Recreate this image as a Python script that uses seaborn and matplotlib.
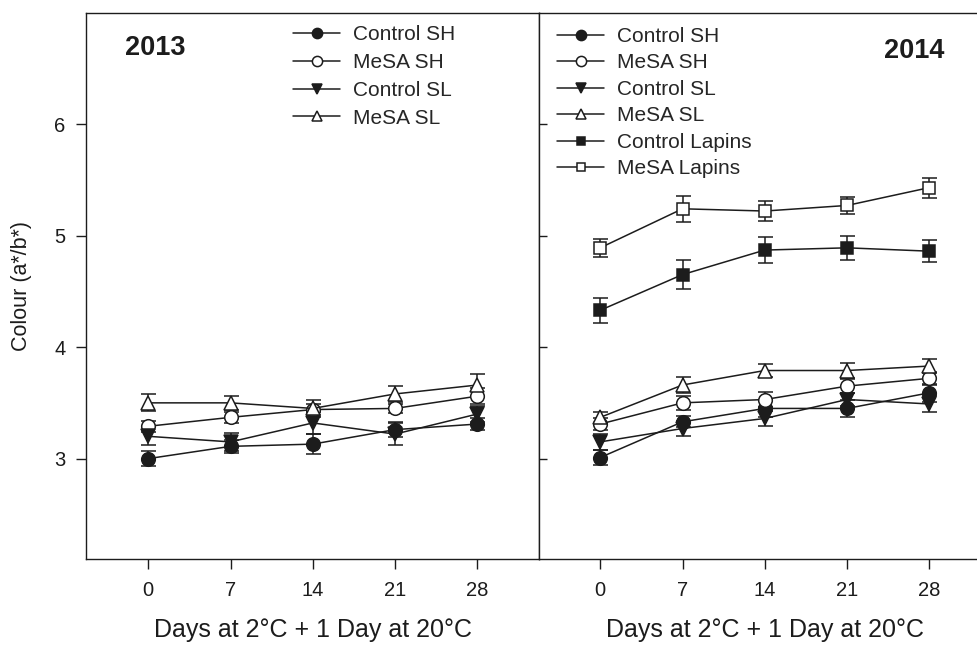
import matplotlib
matplotlib.use("Agg")
import matplotlib.pyplot as plt
import seaborn as sns

# Sampling days in cold storage (+1 day shelf life at 20 °C)
days = [0, 7, 14, 21, 28]

# 2013 season: colour index (a*/b*) means and standard errors
ctrl_sh_2013 = [3.00, 3.11, 3.13, 3.26, 3.31]
ctrl_sh_2013_se = [0.07, 0.06, 0.09, 0.07, 0.05]
mesa_sh_2013 = [3.29, 3.37, 3.44, 3.45, 3.56]
mesa_sh_2013_se = [0.05, 0.05, 0.05, 0.04, 0.07]
ctrl_sl_2013 = [3.20, 3.15, 3.32, 3.22, 3.40]
ctrl_sl_2013_se = [0.08, 0.08, 0.10, 0.10, 0.07]
mesa_sl_2013 = [3.50, 3.50, 3.45, 3.58, 3.66]
mesa_sl_2013_se = [0.075, 0.06, 0.08, 0.075, 0.10]

# 2014 season
ctrl_sh_2014 = [3.01, 3.33, 3.45, 3.45, 3.59]
ctrl_sh_2014_se = [0.07, 0.05, 0.08, 0.08, 0.08]
mesa_sh_2014 = [3.31, 3.50, 3.53, 3.65, 3.72]
mesa_sh_2014_se = [0.05, 0.06, 0.07, 0.06, 0.06]
ctrl_sl_2014 = [3.15, 3.27, 3.36, 3.53, 3.49]
ctrl_sl_2014_se = [0.07, 0.07, 0.07, 0.06, 0.07]
mesa_sl_2014 = [3.37, 3.66, 3.79, 3.79, 3.83]
mesa_sl_2014_se = [0.05, 0.07, 0.06, 0.07, 0.06]
ctrl_lapins_2014 = [4.33, 4.65, 4.87, 4.89, 4.86]
ctrl_lapins_2014_se = [0.11, 0.13, 0.12, 0.11, 0.10]
mesa_lapins_2014 = [4.89, 5.24, 5.22, 5.27, 5.43]
mesa_lapins_2014_se = [0.08, 0.115, 0.09, 0.08, 0.09]

labels = ["Control SH", "MeSA SH", "Control SL", "MeSA SL",
          "Control Lapins", "MeSA Lapins"]
year_labels = ["2013", "2014"]
xlabel = "Days at 2°C + 1 Day at 20°C"
ylabel = "Colour (a*/b*)"
yticks = [3, 4, 5, 6]

INK = "#1c1c1c"
# marker, filled, size (pt)
styles = {
    "Control SH": ("o", True, 9.8),
    "MeSA SH": ("o", False, 9.8),
    "Control SL": ("v", True, 10.2),
    "MeSA SL": ("^", False, 10.2),
    "Control Lapins": ("s", True, 8.4),
    "MeSA Lapins": ("s", False, 8.4),
}

sns.set_theme(style="ticks")
plt.rcParams["font.family"] = ["Liberation Sans", "DejaVu Sans"]
plt.rcParams["axes.edgecolor"] = INK
plt.rcParams["axes.linewidth"] = 1.0

fig = plt.figure(figsize=(9.78, 6.46), dpi=100)
W, H = 978, 646
ax_w = 452 / W
ax_b = 1 - 559 / H
ax_h = (559 - 12.5) / H
ax1 = fig.add_axes([86.5 / W, ax_b, ax_w, ax_h])
ax2 = fig.add_axes([538.5 / W, ax_b, ax_w, ax_h])


def draw_series(ax, name, vals, errs):
    marker, filled, ms = styles[name]
    ax.errorbar(days, vals, yerr=errs, fmt="none", ecolor=INK,
                elinewidth=1.1, capsize=5.4, capthick=1.1, zorder=2)
    sns.lineplot(x=days, y=vals, ax=ax, color=INK, linewidth=1.1,
                 marker=marker, markersize=ms,
                 markerfacecolor=INK if filled else "white",
                 markeredgecolor=INK, markeredgewidth=1.1,
                 label=name, zorder=3)


series_2013 = [
    (ctrl_sh_2013, ctrl_sh_2013_se),
    (mesa_sh_2013, mesa_sh_2013_se),
    (ctrl_sl_2013, ctrl_sl_2013_se),
    (mesa_sl_2013, mesa_sl_2013_se),
]
series_2014 = [
    (ctrl_sh_2014, ctrl_sh_2014_se),
    (mesa_sh_2014, mesa_sh_2014_se),
    (ctrl_sl_2014, ctrl_sl_2014_se),
    (mesa_sl_2014, mesa_sl_2014_se),
    (ctrl_lapins_2014, ctrl_lapins_2014_se),
    (mesa_lapins_2014, mesa_lapins_2014_se),
]

for name, (v, e) in zip(labels, series_2013):
    draw_series(ax1, name, v, e)
for name, (v, e) in zip(labels, series_2014):
    draw_series(ax2, name, v, e)

for ax in (ax1, ax2):
    ax.set_xlim(-5.25, 33.2)
    ax.set_ylim(2.1, 7.0)
    ax.set_xticks(days)
    ax.set_xticklabels([str(d) for d in days])
    ax.set_yticks(yticks)
    ax.set_xlabel(xlabel, fontsize=18, labelpad=12.5, color=INK)
    ax.tick_params(axis="x", direction="out", length=7, width=1.0,
                   pad=9, labelsize=14.5, colors=INK)
    for s in ax.spines.values():
        s.set_visible(True)
        s.set_color(INK)
        s.set_linewidth(1.0)

ax1.tick_params(axis="y", direction="out", length=7, width=1.0, pad=8,
                labelsize=14.5, colors=INK)
ax1.set_yticklabels([str(t) for t in yticks])
ax1.set_ylabel(ylabel, fontsize=15.5, color=INK)
ax1.yaxis.set_label_coords(-0.121, 0.5)

ax2.tick_params(axis="y", direction="in", length=6, width=1.0,
                labelleft=False, colors=INK)

leg_kw = dict(frameon=False, fontsize=15, borderpad=0, borderaxespad=0,
              handlelength=2.26, handletextpad=0.62,
              markerscale=0.75, loc="upper left")
ax1.legend(bbox_to_anchor=(0.457, 0.9765), labelspacing=0.42, **leg_kw)
ax2.legend(bbox_to_anchor=(0.041, 0.9735), labelspacing=0.36, **leg_kw)

ax1.text(0.085, 0.935, year_labels[0], transform=ax1.transAxes,
         fontsize=19.5, fontweight="bold", ha="left", va="center", color=INK)
ax2.text(0.899, 0.929, year_labels[1], transform=ax2.transAxes,
         fontsize=19.5, fontweight="bold", ha="right", va="center", color=INK)

fig.savefig("out.png", dpi=100)
